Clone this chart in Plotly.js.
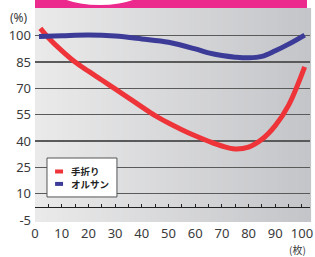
<!DOCTYPE html>
<html>
<head>
<meta charset="utf-8">
<script src="https://cdn.plot.ly/plotly-3.0.1.min.js"></script>
<style>html,body{margin:0;padding:0;background:#fff;}#chart{width:315px;height:257px;}</style>
</head>
<body>
<div id="chart"></div>
<script>
// Data
const redName = '手折り';
const redX = [2, 5, 10, 15, 20, 25, 30, 35, 40, 45, 50, 55, 60, 65, 70, 75, 80, 85, 90, 95, 101];
const redY = [104.2, 98.9, 91.5, 85, 79.8, 74.8, 69.7, 64.6, 59.5, 54.5, 50.3, 46.5, 43, 39.9, 37.2, 35.5, 36.6, 41, 48.8, 60.5, 82.3];
const blueName = 'オルサン';
const blueX = [1.5, 10, 20, 30, 40, 50, 60, 65, 70, 75, 80, 85, 90, 95, 101];
const blueY = [99.6, 100, 100.4, 99.8, 98.2, 96.3, 92.5, 90.2, 88.7, 87.8, 87.4, 88.2, 91.4, 95.2, 100.4];
const yTicks = [-5, 10, 25, 40, 55, 70, 85, 100];
const yTickText = ['-5', '10', '25', '40', '55', '70', '85', '100'];
const yGrid = [10, 25, 40, 55, 70, 85, 100];
const xTicks = [0, 10, 20, 30, 40, 50, 60, 70, 80, 90, 100];
const xMinorTicks = [5, 10, 15, 20, 25, 30, 35, 40, 45, 50, 55, 60, 65, 70, 75, 80, 85, 90, 95, 100];

const RED = '#ee3339';
const BLUE = '#3c3c98';

const traces = [
  {x: redX, y: redY, name: redName, mode: 'lines', line: {color: RED, width: 5, shape: 'spline', smoothing: 1}, showlegend: false, hoverinfo: 'skip'},
  {x: blueX, y: blueY, name: blueName, mode: 'lines', line: {color: BLUE, width: 5, shape: 'spline', smoothing: 1}, showlegend: false, hoverinfo: 'skip'},
  {x: [null], y: [null], xaxis: 'x2', yaxis: 'y', showlegend: false, hoverinfo: 'skip'},
  {x: [null], y: [null], xaxis: 'x', yaxis: 'y2', showlegend: false, hoverinfo: 'skip'}
];

// background gradient strips
const shapes = [];
const N = 50;
const c0 = [234, 234, 234], c1 = [196, 197, 201];
for (let i = 0; i < N; i++) {
  const t = i / (N - 1);
  const c = c0.map((v, k) => Math.round(v + (c1[k] - v) * t));
  shapes.push({type: 'rect', xref: 'x domain', yref: 'y domain', x0: i / N, x1: (i + 1) / N + 0.004, y0: 0, y1: 1,
    fillcolor: 'rgb(' + c.join(',') + ')', line: {width: 0}, layer: 'below'});
}
// pink band + white ellipse on top
shapes.push({type: 'rect', xref: 'paper', yref: 'paper', x0: 0, x1: 0.989, y0: 1, y1: 1.06, fillcolor: '#ec2a8d', line: {width: 0}});
shapes.push({type: 'circle', xref: 'paper', yref: 'paper', x0: 0.054, x1: 0.417, y0: 1.014, y1: 1.2, fillcolor: '#ffffff', line: {width: 0}});
// legend box
shapes.push({type: 'rect', xref: 'paper', yref: 'paper', x0: 0.0436, x1: 0.298, y0: 0.117, y1: 0.299, fillcolor: '#ffffff', line: {color: '#555', width: 1}});
shapes.push({type: 'line', xref: 'paper', yref: 'paper', x0: 0.073, x1: 0.102, y0: 0.236, y1: 0.236, line: {color: RED, width: 4}});
shapes.push({type: 'line', xref: 'paper', yref: 'paper', x0: 0.073, x1: 0.102, y0: 0.178, y1: 0.178, line: {color: BLUE, width: 4}});

const tickFont = {family: 'Noto Sans, DejaVu Sans, sans-serif', size: 13, color: '#3a3a3a'};
const legFont = {family: 'Noto Sans CJK JP, sans-serif', size: 9.5, color: '#222'};

const layout = {
  width: 315, height: 257,
  margin: {l: 35, r: 5, t: 8, b: 35, pad: 0},
  paper_bgcolor: '#ffffff', plot_bgcolor: '#e0e0e0',
  showlegend: false,
  xaxis: {range: [0, 103], tickvals: xTicks, ticks: '', showgrid: false, zeroline: false, showline: false,
    tickfont: tickFont, ticklabelstandoff: 2, fixedrange: true},
  xaxis2: {overlaying: 'x', matches: 'x', anchor: 'free', position: 0.07, side: 'bottom', showline: true, linecolor: '#222', linewidth: 1.2,
    ticks: 'inside', ticklen: 3, tickwidth: 1, tickcolor: '#222', tickvals: xMinorTicks, showticklabels: false, showgrid: false, zeroline: false},
  yaxis: {range: [-6.1, 115.8], tickvals: yTicks, ticktext: yTickText, ticks: '', showgrid: false, zeroline: false, showline: false,
    tickfont: tickFont, ticklabelstandoff: 3, fixedrange: true},
  yaxis2: {overlaying: 'y', matches: 'y', tickvals: yGrid, showgrid: true, gridcolor: '#5a5a5a', gridwidth: 1.5,
    showticklabels: false, ticks: '', zeroline: false, showline: false},
  shapes: shapes,
  annotations: [
    {text: '(%)', xref: 'paper', yref: 'paper', x: -0.06, y: 0.955, xanchor: 'center', yanchor: 'middle', showarrow: false, font: {family: 'Noto Sans, sans-serif', size: 12, color: '#3a3a3a'}},
    {text: '(枚)', xref: 'paper', yref: 'paper', x: 0.955, y: -0.13, xanchor: 'center', yanchor: 'middle', showarrow: false, font: {family: 'Noto Sans CJK JP, sans-serif', size: 10, color: '#3a3a3a'}},
    {text: '<b>' + redName + '</b>', xref: 'paper', yref: 'paper', x: 0.125, y: 0.238, xanchor: 'left', yanchor: 'middle', showarrow: false, font: legFont},
    {text: '<b>' + blueName + '</b>', xref: 'paper', yref: 'paper', x: 0.125, y: 0.176, xanchor: 'left', yanchor: 'middle', showarrow: false, font: legFont}
  ]
};

Plotly.newPlot('chart', traces, layout, {displayModeBar: false, staticPlot: true});
</script>
</body>
</html>
